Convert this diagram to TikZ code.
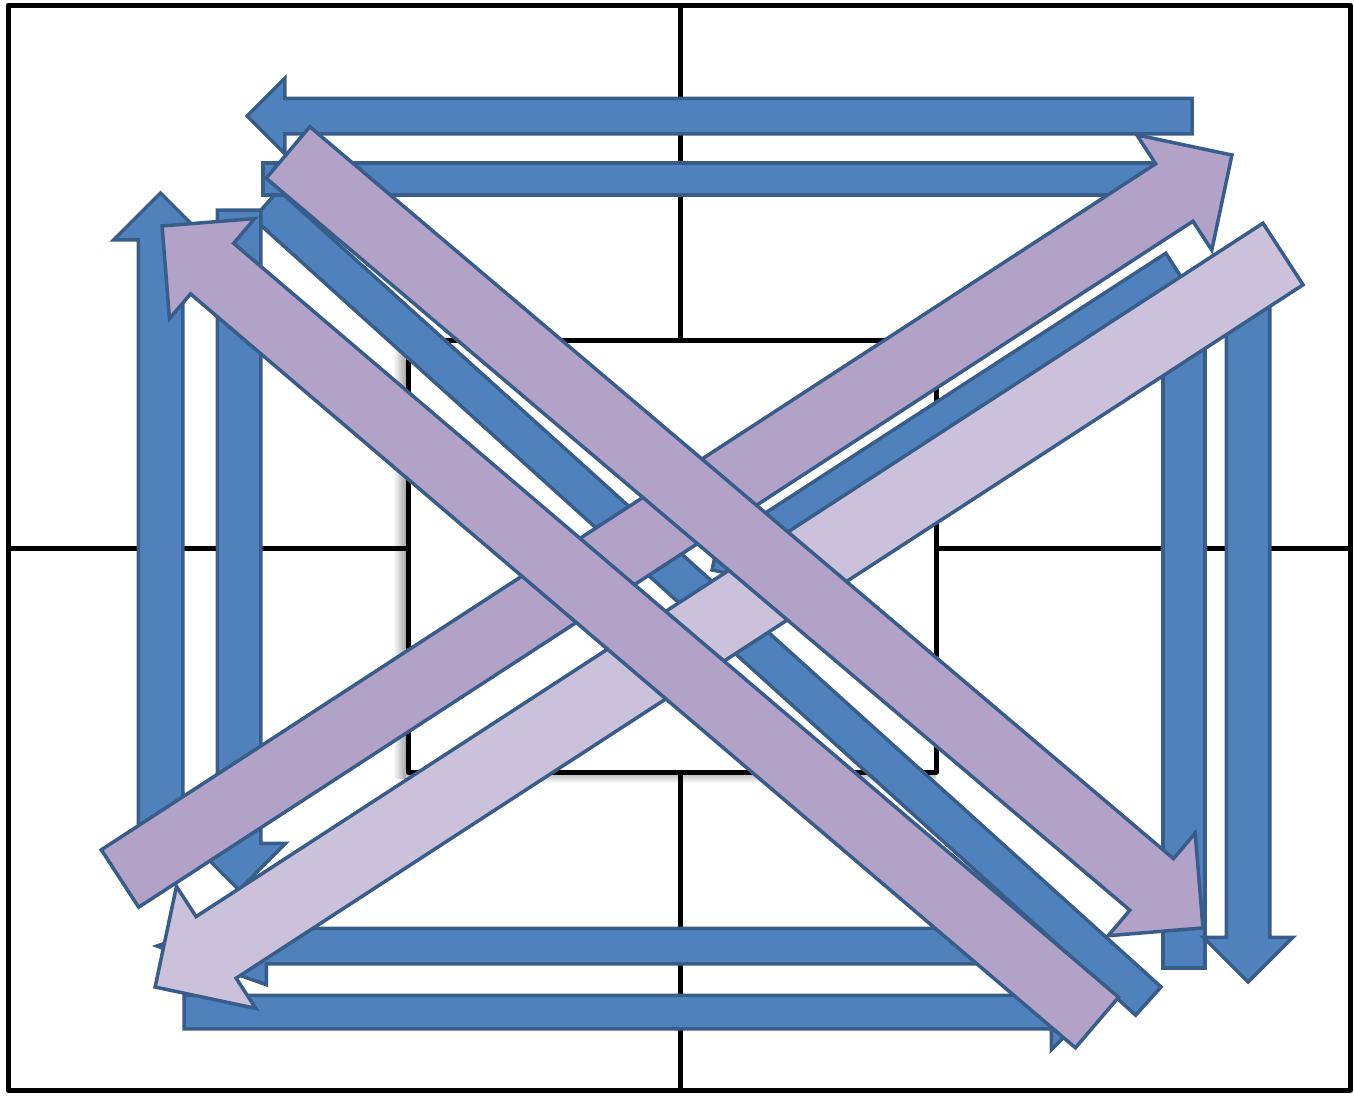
\documentclass[tikz,border=0pt]{standalone}
\usetikzlibrary{shapes.arrows}
\definecolor{arrowblue}{HTML}{4F81BD}
\definecolor{arrowline}{HTML}{385D8A}
\definecolor{arrowpurple}{HTML}{B2A2C7}
\definecolor{arrowlilac}{HTML}{CCC1DA}
\begin{document}
\begin{tikzpicture}[x=1pt, y=-1pt,
  every node/.style={inner sep=0pt, outer sep=0pt},
  frameline/.style={line width=5pt, line join=round},
  block/.style={single arrow, draw=arrowline, line width=3.5pt, anchor=tail, single arrow tip angle=90},
  bar/.style={rectangle, draw=arrowline, line width=3.5pt},
  bluefill/.style={fill=arrowblue},
  purplefill/.style={fill=arrowpurple},
  lilacfill/.style={fill=arrowlilac}]
\useasboundingbox (0,0) rectangle (1354,1095);

\shade[left color=white, right color=black!35] (393,343) rectangle (406,778);
\shade[top color=black!25, bottom color=white] (406,774) rectangle (936,783);
\draw[frameline] (8,5) rectangle (1350,1090);
\draw[frameline] (680,5) -- (680,340);
\draw[frameline] (680,772) -- (680,1090);
\draw[frameline] (8,548) -- (408,548);
\draw[frameline] (936,548) -- (1350,548);
\draw[frameline, fill=white] (408,340) rectangle (936,772);

\node[block, bluefill, rotate=180, minimum height=933pt, inner ysep=16pt, single arrow head extend=21pt, single arrow tip angle=39] at (1090,946) (botin) {};
\node[block, bluefill, rotate=0, minimum height=905pt, inner ysep=15pt, single arrow head extend=21pt] at (184,1012) (botout) {};
\node[bar, bluefill, minimum width=42pt, minimum height=638pt] at (1184,649) (rightin) {};
\node[block, bluefill, rotate=-90, minimum height=692pt, inner ysep=20pt, single arrow head extend=23pt] at (1248,290) (rightout) {};
\node[bar, bluefill, rotate=-42.08, minimum width=1188.8pt, minimum height=38pt] at (707.2,602.7) (crossdown) {};
\node[block, bluefill, rotate=180, minimum height=945pt, inner ysep=16pt, single arrow head extend=20pt] at (1192,116) (topout) {};
\node[bar, bluefill, minimum width=907pt, minimum height=32pt] at (716.5,179) (topin) {};
\node[block, bluefill, rotate=90, minimum height=667pt, inner ysep=20.5pt, single arrow head extend=24.5pt] at (160.5,860) (leftout) {};
\node[block, bluefill, rotate=-90, minimum height=680pt, inner ysep=20pt, single arrow head extend=25pt] at (239,210) (leftin) {};
\node[block, bluefill, rotate=-147.03, minimum height=553pt, inner ysep=17pt, single arrow head extend=20pt] at (1176,269) (crossup) {};

\node[block, purplefill, rotate=33.05, minimum height=1326.6pt, inner ysep=32.5pt, single arrow head extend=34.5pt] at (120,878.5) (bigup) {};
\node[block, lilacfill, rotate=-146.98, minimum height=1345.2pt, inner ysep=35pt, single arrow head extend=36pt] at (1283,254) (bigback) {};
\node[block, purplefill, rotate=-40.28, minimum height=1199.4pt, inner ysep=32pt, single arrow head extend=33.5pt] at (288,152.5) (bigdown) {};
\node[block, purplefill, rotate=139.57, minimum height=1228.3pt, inner ysep=31.5pt, single arrow head extend=32.5pt] at (1097,1022.5) (bigleft) {};
\end{tikzpicture}
\end{document}
